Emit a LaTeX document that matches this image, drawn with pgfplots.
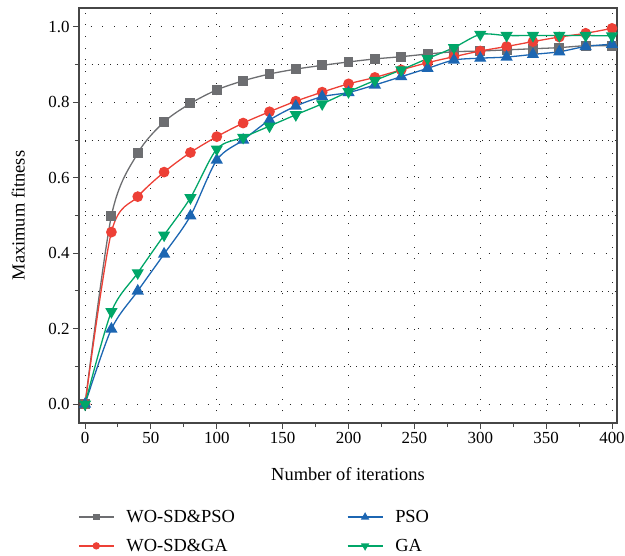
\documentclass[border=0pt]{standalone}
\usepackage{fontspec}
\setmainfont{Liberation Serif}
\usepackage{pgfplots}
\pgfplotsset{compat=1.18}
\definecolor{cgray}{RGB}{109,110,113}
\definecolor{cred}{RGB}{237,64,54}
\definecolor{cblue}{RGB}{28,102,178}
\definecolor{cgreen}{RGB}{0,166,104}
\definecolor{cax}{RGB}{70,70,70}
\begin{document}
\begin{tikzpicture}
\path[use as bounding box] (-79bp,-133bp) rectangle (546bp,423bp);
\begin{axis}[
  scale only axis,
  width=538bp, height=415bp,
  xmin=-4.6, xmax=403.8, ymin=-0.05, ymax=1.05,
  xtick={0,50,...,400}, minor xtick={25,75,...,375},
  ytick={0,0.2,0.4,0.6,0.8,1.0}, minor ytick={0.1,0.3,0.5,0.7,0.9},
  yticklabel style={/pgf/number format/.cd,fixed,fixed zerofill,precision=1},
  /pgf/number format/assume math mode=true,
  tick align=outside, xtick pos=bottom, ytick pos=left,
  major tick length=6bp, minor tick length=4bp,
  every tick/.style={cax, line width=1bp},
  axis line style={cax, line width=1.3bp},
  xmajorgrids, ymajorgrids, yminorgrids,
  major grid style={black!85, line width=0.9bp, dash pattern=on 0.9bp off 10.8bp},
  minor grid style={black!85, line width=0.9bp, dash pattern=on 0.9bp off 5.4bp},
  tick label style={font=\fontsize{17}{20}\selectfont},
  label style={font=\fontsize{18.5}{22}\selectfont},
  xlabel={Number of iterations}, ylabel={Maximum fitness},
  xlabel style={at={(axis description cs:0.5,-0.123)}, anchor=center},
  ylabel style={at={(axis description cs:-0.113,0.5)}, anchor=center},
  legend columns=2, transpose legend,
  legend style={draw=none, fill=none, inner sep=0pt, at={(axis description cs:-0.002,-0.205)}, anchor=north west,
    font=\fontsize{18.5}{22}\selectfont,
    /tikz/every even column/.append style={column sep=110bp},
    /tikz/every odd column/.append style={column sep=10bp},
    row sep=11bp},
  legend cell align=left,
  legend image code/.code={\draw[mark repeat=2,mark phase=2,#1] plot coordinates {(0bp,0bp)(17.5bp,0bp)(35bp,0bp)};},
  every axis plot/.append style={line width=1.3bp, smooth},
]
\addplot[cgray, mark=square*, mark size=4.3bp, mark options={fill=cgray}, forget plot] coordinates {
(0,0)(20,0.499)(40,0.665)(60,0.748)(80,0.797)(100,0.833)(120,0.857)(140,0.875)(160,0.888)(180,0.898)(200,0.907)(220,0.915)(240,0.921)(260,0.928)(280,0.934)(300,0.936)(320,0.939)(340,0.942)(360,0.945)(380,0.95)(400,0.95)};
\addplot[cred, mark=*, mark size=4.7bp, mark options={fill=cred}, forget plot] coordinates {
(0,0)(20,0.456)(40,0.55)(60,0.615)(80,0.667)(100,0.709)(120,0.745)(140,0.775)(160,0.803)(180,0.827)(200,0.849)(220,0.866)(240,0.886)(260,0.905)(280,0.921)(300,0.936)(320,0.948)(340,0.961)(360,0.973)(380,0.983)(400,0.996)};
\addplot[cblue, mark=triangle*, mark size=5.8bp, mark options={fill=cblue}, forget plot] coordinates {
(0,0)(20,0.199)(40,0.30)(60,0.398)(80,0.499)(100,0.647)(120,0.70)(140,0.753)(160,0.79)(180,0.815)(200,0.826)(220,0.846)(240,0.868)(260,0.89)(280,0.912)(300,0.917)(320,0.92)(340,0.927)(360,0.934)(380,0.948)(400,0.954)};
\addplot[cgreen, mark=triangle*, mark size=5.8bp, mark options={fill=cgreen, rotate=180}, forget plot] coordinates {
(0,0)(20,0.245)(40,0.348)(60,0.448)(80,0.547)(100,0.676)(120,0.707)(140,0.737)(160,0.767)(180,0.796)(200,0.828)(220,0.858)(240,0.886)(260,0.916)(280,0.945)(300,0.98)(320,0.977)(340,0.977)(360,0.977)(380,0.977)(400,0.976)};
\addlegendimage{cgray, line width=1.3bp, mark=square*, mark size=2.7bp, mark options={fill=cgray}}
\addlegendentry{WO-SD\&PSO}
\addlegendimage{cred, line width=1.3bp, mark=*, mark size=3bp, mark options={fill=cred}}
\addlegendentry{WO-SD\&GA}
\addlegendimage{cblue, line width=1.3bp, mark=triangle*, mark size=3.6bp, mark options={fill=cblue}}
\addlegendentry{PSO}
\addlegendimage{cgreen, line width=1.3bp, mark=triangle*, mark size=3.6bp, mark options={fill=cgreen, rotate=180}}
\addlegendentry{GA}
\end{axis}
\end{tikzpicture}
\end{document}
